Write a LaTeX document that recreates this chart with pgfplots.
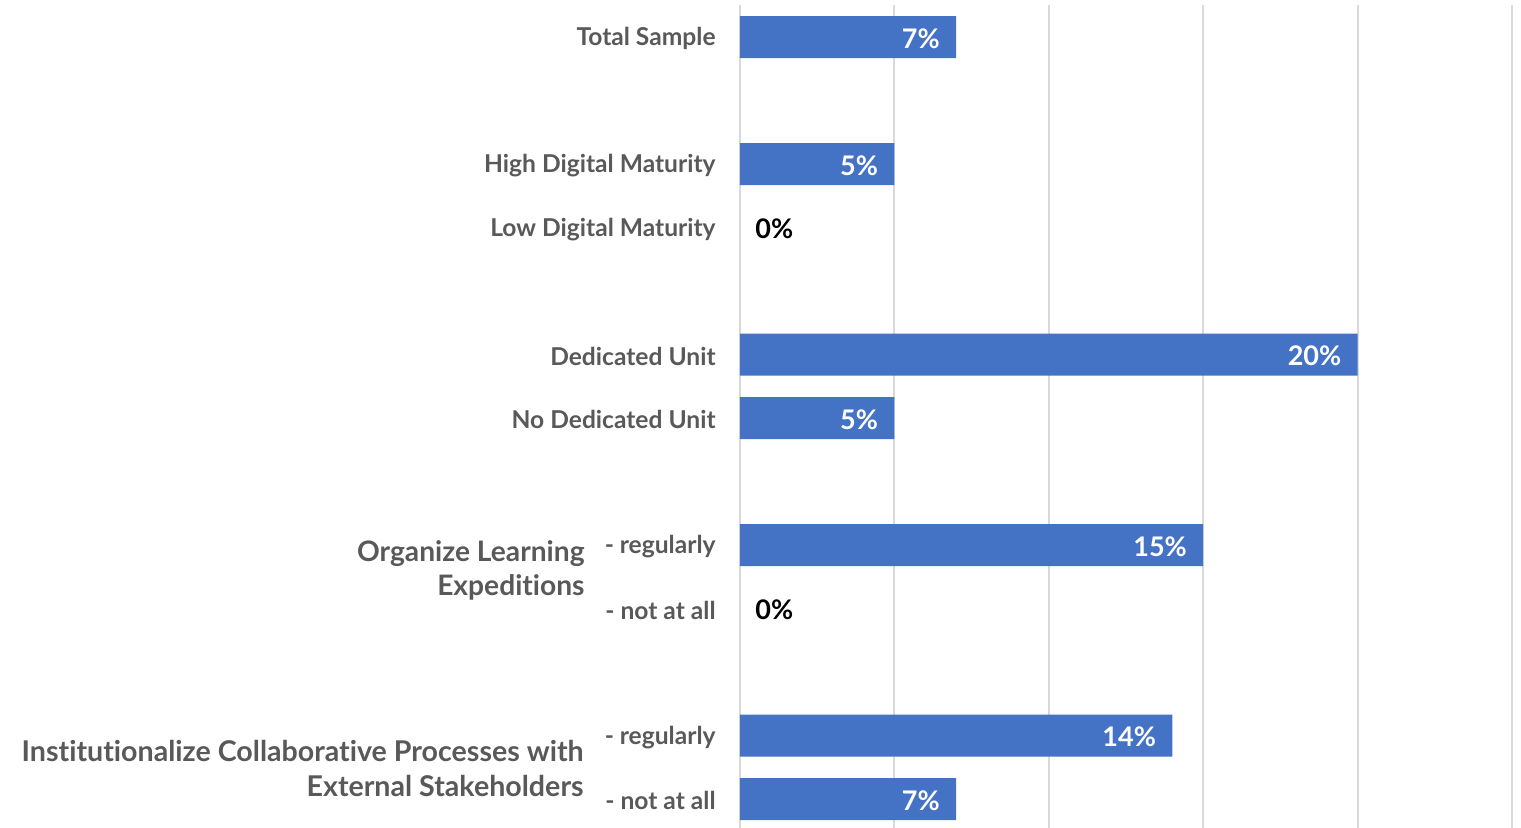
\documentclass[border=0pt]{standalone}
\usepackage{fontspec}
\setmainfont{Lato}[Ligatures=NoCommon]
\usepackage{pgfplots}
\pgfplotsset{compat=1.18}
\definecolor{barblue}{HTML}{4472C4}
\definecolor{labgray}{HTML}{595959}
\definecolor{gridgray}{HTML}{D9D9D9}
\begin{document}
\begin{tikzpicture}
\useasboundingbox (0,0) rectangle (760.5pt,413.5pt);
\begin{axis}[
  at={(370pt,-1.875pt)}, anchor=south west,
  scale only axis,
  width=386pt, height=412.75pt,
  xbar, bar width=21pt, bar shift=0pt,
  xmin=0, xmax=25,
  ymin=-0.5, ymax=12.5,
  y dir=reverse,
  xtick={0,5,10,15,20,25},
  xticklabels={},
  xmajorgrids=true,
  grid style={color=gridgray, line width=1pt},
  major tick length=0pt,
  axis line style={draw=none},
  ytick={0,2,3,5,6,8,9,11,12},
  yticklabels={Total Sample, High Digital Maturity, Low Digital Maturity, Dedicated Unit, No Dedicated Unit, - regularly, - not at all, - regularly, - not at all},
  yticklabel style={anchor=east, inner sep=0pt, xshift=-12pt, yshift=-0.8pt, font=\fontsize{12.3pt}{14pt}\selectfont\bfseries, text=labgray},
  /pgf/number format/assume math mode=true,
  point meta=x,
  clip=false,
]
\addplot[draw=none, fill=barblue,
  nodes near coords={\pgfmathprintnumber{\pgfplotspointmeta}\%},
  nodes near coords style={anchor=east, xshift=-8pt, yshift=-0.8pt, text=white, font=\fontsize{13.5pt}{15pt}\selectfont\bfseries, inner sep=0pt}]
  coordinates {(7,0) (5,2) (20,5) (5,6) (15,8) (14,11) (7,12)};
\addplot[draw=none, fill=none,
  nodes near coords={\pgfmathprintnumber{\pgfplotspointmeta}\%},
  nodes near coords style={anchor=west, xshift=7.5pt, yshift=-0.8pt, text=black, font=\fontsize{13.5pt}{15pt}\selectfont\bfseries, inner sep=0pt}]
  coordinates {(0,3) (0,9)};
\node[anchor=east, align=right, inner sep=0pt, text=labgray, font=\fontsize{14.1pt}{17pt}\selectfont\bfseries] at ([xshift=-77.5pt]axis cs:0,8.4) {Organize Learning\\Expeditions};
\node[anchor=east, align=right, inner sep=0pt, text=labgray, font=\fontsize{14.3pt}{17.5pt}\selectfont\bfseries] at ([xshift=-78pt]axis cs:0,11.52) {Institutionalize Collaborative Processes with\\External Stakeholders};
\end{axis}
\end{tikzpicture}
\end{document}
